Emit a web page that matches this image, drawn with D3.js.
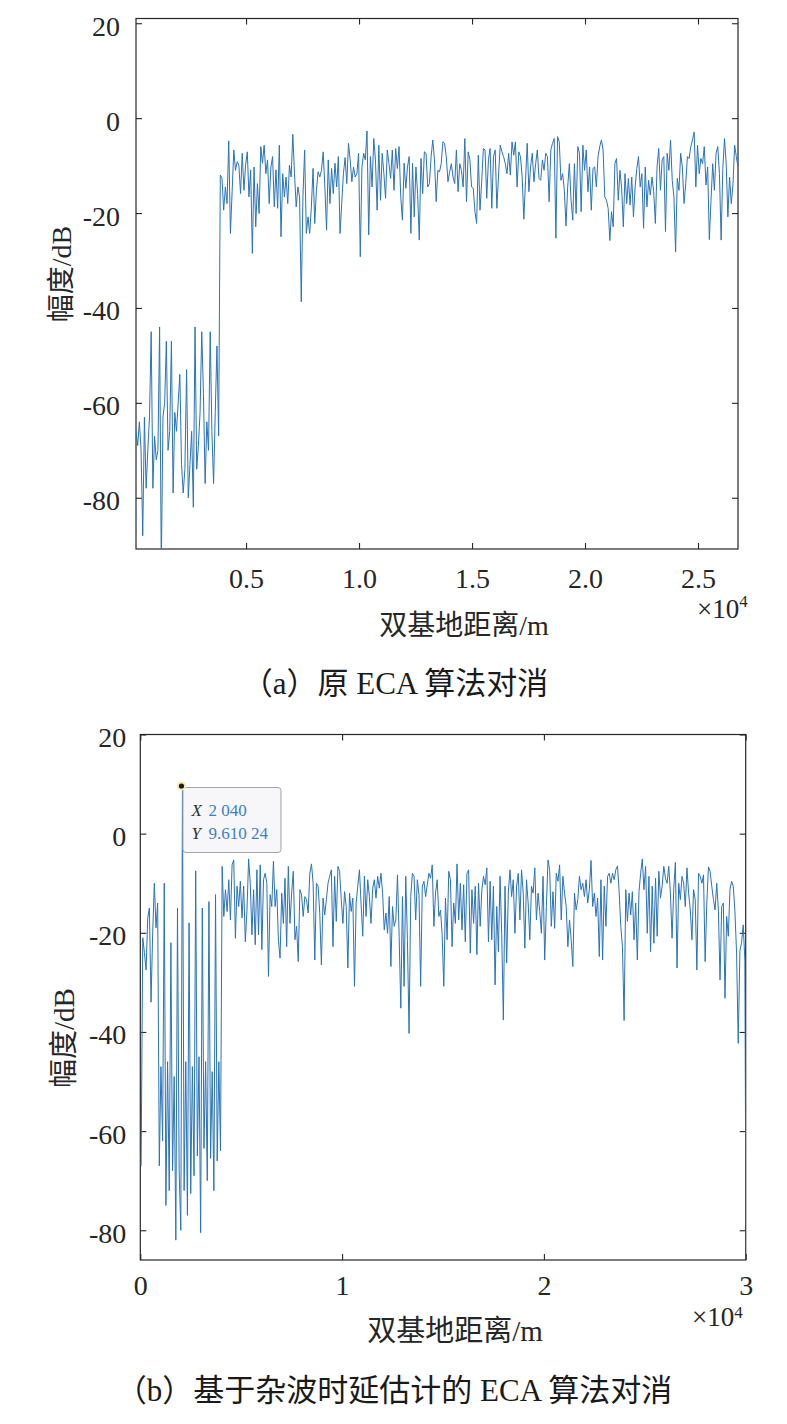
<!DOCTYPE html>
<html><head><meta charset="utf-8">
<script src="https://cdn.jsdelivr.net/npm/d3@7"></script>
<style>body{margin:0;background:#fff;} svg{display:block;} svg text{font-family:'Liberation Serif','Times New Roman','Noto Sans CJK SC',serif;}</style>
</head><body>
<svg id="chart" width="787" height="1424"></svg>
<script>
// ---------------- data ----------------
const yTicks = [20, 0, -20, -40, -60, -80];
const topXTicks = [5000, 10000, 15000, 20000, 25000];
const topXTickLabels = ["0.5", "1.0", "1.5", "2.0", "2.5"];
const bottomXTicks = [0, 10000, 20000, 30000];
const bottomXTickLabels = ["0", "1", "2", "3"];
const topRangeStart = 130, topRangeEnd = 26770;      // m, first/last range bin (a)
const bottomRangeStart = 40, bottomRangeEnd = 30040; // m, first/last range bin (b)

// (a) original ECA cancellation, amplitude in dB
const topMag = [
 -66,-69,-64,-70,-88,-63,-78,-70,-63,-45,-78,-67,-72,-70,-44,-95,-63,-60,-47,-70,
 -66,-47,-79,-62,-66,-60,-54,-73,-79,-74,-53,-80,-73,-66,-82,-44,-74,-69,-62,-45,
 -58,-77,-64,-70,-45,-66,-77,-62,-48,-67,
 -12.0,-12.7,-19.4,-14.5,-18,-4.8,-24.3,-15.5,-6.7,-11,-9.2,-9.9,-15.9,-7.4,-15.2,-9.9,-7.1,-16.6,-10.9,-28.5,
 -10.3,-22.9,-13.8,-20.1,-6.0,-9.5,-5.7,-11.7,-8.8,-18,-10.3,-8.1,-18.7,-10.9,-19,-5.7,-25,-11.7,-16.6,-12.4,
 -18,-9.9,-12.4,-3.4,-11.7,-18.7,-14.5,-16.6,-38.7,-16.6,-6.7,-24.3,-20.8,-24.3,-18.7,-10.6,-22.2,-15.2,-11.3,-12.4,
 -11,-7.1,-14.5,-23.6,-8.8,-18,-10.6,-15.9,-9.5,-14.5,-8.1,-24.3,-18,-11.7,-8.3,-13.8,-5.3,-8.8,-13.4,-10.3,
 -12.4,-11.7,-7.4,-29.2,-10.3,-7.4,-8.8,-2.7,-24.6,-8.1,-14.5,-4.3,-8.8,-19.4,-5.7,-17.3,-7.4,-11.7,-16.9,-6.7,
 -9.5,-12.7,-6.7,-15.2,-6.4,-10.6,-6.0,-16.6,-21.5,-9.5,-14.8,-10.3,-8.1,-24.3,-9.5,-20.8,-10.3,-15.9,-25.7,-8.5,
 -15.9,-7.1,-7.4,-14.5,-13.8,-8.1,-4.6,-8.8,-17.6,-11,
 -11.3,-9.6,-5.0,-5.3,-8.1,-13.4,-11.3,-9.6,-12.4,-13.8,-6.7,-15.5,-9.6,-11.0,-14.5,-4.3,-17.6,-7.1,-8.8,-14.5,
 -14.8,-19.7,-22.2,-7.8,-19.4,-13.4,-6.4,-6.7,-16.9,-8.8,-6.4,-19.0,-8.1,-6.7,-19.0,-12.0,-5.7,-7.1,-8.1,-9.6,
 -11.7,-7.4,-12.0,-5.0,-7.8,-5.0,-14.5,-7.1,-8.1,-12.4,-21.3,-13.1,-5.3,-15.5,-10.3,-7.4,-13.4,-9.6,-6.7,-12.7,
 -13.1,-8.8,-11.0,-7.4,-8.1,-17.6,-6.7,-5.3,-4.3,-25.3,-3.9,-5.0,-13.1,-11.7,-15.2,-22.7,-14.5,-9.6,-17.3,-21.5,
 -9.6,-20.1,-6.0,-7.4,-19.7,-5.7,-11.0,-6.7,-15.5,-10.3,-19.4,-10.6,-10.3,-14.5,-8.1,-6.0,-4.6,-6.7,-16.6,-17.3,
 -19.0,-25.8,-19.7,-22.9,-9.6,-8.5,-17.3,-11.0,-14.8,-22.9,-11.7,-18.0,-12.7,-18.3,-12.4,-20.8,-14.5,-10.6,-8.1,-14.5,
 -11.7,-23.2,-10.3,-18.7,-13.1,-16.2,-12.4,-15.5,-22.2,-10.3,-6.4,-15.2,-8.8,-8.1,-23.9,-7.4,-11.0,-4.6,-13.1,-16.6,
 -28.2,-12.7,-15.2,-7.4,-10.3,-18.0,-13.8,-8.1,-8.5,-6.0,-4.6,-2.9,-14.5,-5.7,-11.7,-8.5,-9.6,-6.0,-14.1,-10.3,
 -25.6,-17.3,-9.6,-15.2,-7.4,-6.0,-11.7,-25.7,-10.6,-4.3,-9.6,-20.8,-12.4,-18.0,-14.1,-5.7,-8.1,-10.3
];

// (b) ECA cancellation based on clutter delay estimation, amplitude in dB
const bottomMag = [
 -67,-21,-24,-27.5,-17,-15,-34,-20,-10,-19,
 -14,-67,-47,-62,-10,-75,-46,-72,-22,-68,
 -49,-82,-15,-68,-80,9.61024,-72,-46,-77,-18,
 -72.6,-47,-69,-7.5,-65,-45,-80.5,-15,-63.5,-46,
 -70,-13.7,-65.5,-48,-72,-12.3,-66,-46,-64,
 -6.6,-16.7,-11.3,-15.7,-9.3,-17.4,-6.3,-5.3,-21.1,-10.6,-14.7,-9.6,-17.0,-10.6,-21.8,-15.4,-5.1,-10.0,-20.4,-11.3,
 -22.4,-7.3,-20.4,-6.3,-23.4,-9.3,-8.0,-10.0,-28.8,-12.3,-14.7,-5.6,-14.7,-11.3,-21.4,-25.1,-12.0,-18.1,-9.0,-22.8,
 -6.6,-18.1,-12.0,-7.6,-21.4,-18.7,-25.8,-11.3,-12.3,-16.7,-12.7,-13.3,-16.0,-8.0,-6.1,-10.0,-25.5,-10.0,-10.6,-16.0,
 -26.5,-13.0,-16.4,-13.3,-10.0,-8.6,-7.3,-22.8,-8.6,-17.7,-6.6,-7.6,-13.3,-18.1,-11.7,-14.7,-27.1,-12.0,-15.7,-13.0,
 -30.8,-14.0,-10.6,-7.3,-14.3,-20.7,-8.6,-16.7,-9.3,-12.7,-18.1,-11.0,-9.3,-13.0,-8.6,-11.0,-8.0,-12.0,-19.4,-16.0,
 -20.1,-12.7,-26.8,-14.7,-18.7,-17.4,-8.3,-20.7,-35.2,-12.7,-30.8,-8.6,-21.4,-40.3,-12.7,-8.0,-8.6,-17.4,-9.3,-12.3,
 -30.8,-10.6,-9.6,-12.7,-10.3,-8.0,-9.0,-6.3,-18.7,-12.0,-9.3,-16.7,
 -15.4,-20.4,-30.8,-13.0,-21.4,-7.6,-9.3,-22.8,-14.0,-18.1,-6.1,-17.4,-10.0,-19.4,-10.3,-21.8,-8.0,-7.3,-24.1,-11.3,
 -18.1,-10.6,-24.4,-10.0,-18.7,-11.3,-8.6,-10.3,-6.9,-21.8,-9.6,-21.4,-10.6,-30.5,-14.7,-23.8,-8.6,-20.1,-37.6,-10.6,
 -26.1,-12.0,-7.3,-12.7,-9.3,-20.1,-10.6,-8.0,-17.4,-7.3,-12.0,-23.1,-9.3,-14.0,-21.4,-10.6,-12.0,-6.9,-17.4,-12.0,
 -15.7,-20.1,-8.6,-25.5,-14.7,-5.3,-7.3,-18.7,-11.7,-19.1,-8.0,-9.6,-6.3,-17.4,-8.6,-12.0,-14.7,-22.8,-17.4,-21.4,
 -26.8,-12.0,-15.4,-13.3,-8.6,-11.3,-10.0,-12.7,-9.3,-14.0,-11.3,-5.4,-14.7,-12.0,-16.7,-13.0,-24.8,-9.3,-25.5,-10.6,
 -18.7,-8.6,-8.0,-10.0,-8.0,-9.3,-7.3,-6.5,-11.7,-18.7,-22.8,-37.7,-11.3,-17.7,-12.0,-16.4,-11.7,-21.4,-14.0,-25.5,
 -11.7,-8.0,-5.1,-11.3,-6.6,-20.1,-8.6,-23.8,-10.6,-22.1,-9.0,-20.7,-7.6,-13.0,-10.6,-6.6,-9.0,-10.0,-6.6,-12.0,
 -21.1,-11.3,-5.8,-27.1,-10.0,-13.3,-8.6,-10.0,-14.7,-6.9,-12.0,-15.4,-21.4,-11.3,-13.3,-27.5,-8.0,-8.6,-10.0,-8.3,
 -25.8,-14.0,-6.7,-7.6,-10.6,-13.3,-15.4,-10.0,-15.4,-29.5,-14.7,-14.0,-33.2,-16.7,-20.7,-11.3,-9.6,-10.6,-15.7,-24.1,
 -42.3,-23.6,-22,-18.4,-25.5,
 -110
];

const datatip = { x: 2040, y: 9.61024, xText: "2 040", yText: "9.610 24" };
const xLabelText = "双基地距离/m";
const yLabelText = "幅度/dB";
const captionA = "（a）原 ECA 算法对消";
const captionB = "（b）基于杂波时延估计的 ECA 算法对消";

// ---------------- drawing ----------------
const FONT = "'Liberation Serif','Times New Roman','Noto Sans CJK SC',serif";
const INK = "#262626";
const LINE = "#2a73b8";
const svg = d3.select("#chart").attr("font-family", FONT);
svg.append("rect").attr("width", 787).attr("height", 1424).attr("fill", "#fff");

function rangeBins(start, end, n) {
  const step = (end - start) / (n - 1);
  return d3.range(n).map(i => start + i * step);
}

function panel(cfg) {
  const x = d3.scaleLinear().domain(cfg.xDomain).range([cfg.left, cfg.right]);
  const y = d3.scaleLinear().domain(cfg.yDomain).range([cfg.bottom, cfg.top]);
  const g = svg.append("g");

  // frame
  g.append("rect").attr("x", cfg.left).attr("y", cfg.top)
    .attr("width", cfg.right - cfg.left).attr("height", cfg.bottom - cfg.top)
    .attr("fill", "none").attr("stroke", INK).attr("stroke-width", 1.2);

  const styleAxis = sel => {
    sel.attr("font-family", FONT).attr("font-size", cfg.tickFont);
    sel.select(".domain").remove();
    sel.selectAll(".tick line").attr("stroke", INK).attr("stroke-width", 1.1);
    sel.selectAll("text").attr("fill", INK)
      .attr("font-family", FONT).style("font-family", FONT)
      .style("font-size", cfg.tickFont + "px");
  };

  const left = g.append("g").attr("transform", `translate(${cfg.left},0)`)
    .call(d3.axisLeft(y).tickValues(yTicks).tickSize(-6).tickPadding(cfg.yPad)
      .tickFormat(d => String(d)));
  styleAxis(left);
  left.selectAll("text").attr("dy", 12);

  const right = g.append("g").attr("transform", `translate(${cfg.right},0)`)
    .call(d3.axisRight(y).tickValues(yTicks).tickSize(-6).tickFormat(""));
  styleAxis(right);

  const bottom = g.append("g").attr("transform", `translate(0,${cfg.bottom})`)
    .call(d3.axisBottom(x).tickValues(cfg.xTicks).tickSize(-6)
      .tickFormat((d, i) => cfg.xTickLabels[i]));
  styleAxis(bottom);
  bottom.selectAll("text").attr("y", cfg.xTickBase).attr("dy", 0);

  const top = g.append("g").attr("transform", `translate(0,${cfg.top})`)
    .call(d3.axisTop(x).tickValues(cfg.xTicks).tickSize(-6).tickFormat(""));
  styleAxis(top);

  // data line
  const clipId = "clip" + cfg.id;
  svg.append("clipPath").attr("id", clipId).append("rect")
    .attr("x", cfg.left).attr("y", cfg.top)
    .attr("width", cfg.right - cfg.left).attr("height", cfg.bottom - cfg.top);
  const xs = rangeBins(cfg.rangeStart, cfg.rangeEnd, cfg.values.length);
  const line = d3.line().x((d, i) => x(xs[i])).y(d => y(d));
  g.append("path").datum(cfg.values).attr("d", line)
    .attr("clip-path", `url(#${clipId})`)
    .attr("fill", "none").attr("stroke", LINE).attr("stroke-width", 1)
    .attr("stroke-linejoin", "round");

  // exponent
  const ex = g.append("text").attr("x", cfg.expX).attr("y", cfg.expY)
    .attr("fill", INK).style("font-size", "27px");
  ex.append("tspan").text("×10");
  ex.append("tspan").attr("dy", cfg.supDy).style("font-size", "17px").text("4");

  // axis labels
  g.append("text").attr("x", cfg.xLabelX).attr("y", cfg.xLabelY)
    .attr("text-anchor", "middle").attr("fill", INK)
    .style("font-size", cfg.labelFont + "px").text(xLabelText);
  g.append("text").attr("transform", `translate(${cfg.yLabelX},${cfg.yLabelY}) rotate(-90)`)
    .attr("text-anchor", "middle").attr("fill", INK)
    .style("font-size", cfg.labelFont + "px").text(yLabelText);

  // caption
  g.append("text").attr("x", cfg.captionX).attr("y", cfg.captionY)
    .attr("text-anchor", "middle").attr("fill", "#1a1a1a")
    .style("font-size", "31px").text(cfg.caption);

  return { x, y, g };
}

panel({
  id: "a", left: 136, right: 738, top: 18.5, bottom: 549,
  xDomain: [topRangeStart, topRangeEnd], yDomain: [-90.8, 21],
  xTicks: topXTicks, xTickLabels: topXTickLabels,
  rangeStart: topRangeStart, rangeEnd: topRangeEnd, values: topMag,
  tickFont: 28, yPad: 16, xTickBase: 39,
  expX: 697, expY: 618, supDy: -11, labelFont: 28,
  xLabelX: 464, xLabelY: 635, yLabelX: 71, yLabelY: 274,
  captionX: 395, captionY: 694, caption: captionA
});

const pb = panel({
  id: "b", left: 140.3, right: 745.7, top: 734.5, bottom: 1260,
  xDomain: [0, 30000], yDomain: [-86, 20],
  xTicks: bottomXTicks, xTickLabels: bottomXTickLabels,
  rangeStart: bottomRangeStart, rangeEnd: bottomRangeEnd, values: bottomMag,
  tickFont: 28, yPad: 14, xTickBase: 35,
  expX: 692, expY: 1326, supDy: -8, labelFont: 29,
  xLabelX: 455, xLabelY: 1341, yLabelX: 74, yLabelY: 1038,
  captionX: 394, captionY: 1401, caption: captionB
});

// datatip
const tx = pb.x(datatip.x), ty = pb.y(datatip.y);
const tip = svg.append("g");
tip.append("rect").attr("x", tx + 1.5).attr("y", ty + 1.5).attr("width", 98).attr("height", 65)
  .attr("rx", 3).attr("fill", "#f7f7f9").attr("stroke", "#a3a3a3").attr("stroke-width", 1);
tip.append("circle").attr("cx", tx).attr("cy", ty).attr("r", 3.6)
  .attr("fill", "#1a1a1a").attr("stroke", "#f3e7b3").attr("stroke-width", 2);
const rowX = tip.append("text").attr("x", tx + 10).attr("y", ty + 30).style("font-size", "17px");
rowX.append("tspan").attr("fill", "#333").style("font-style", "italic").text("X");
rowX.append("tspan").attr("x", tx + 27).attr("fill", "#3d7fc2").text(datatip.xText);
const rowY = tip.append("text").attr("x", tx + 10).attr("y", ty + 53).style("font-size", "17px");
rowY.append("tspan").attr("fill", "#333").style("font-style", "italic").text("Y");
rowY.append("tspan").attr("x", tx + 27).attr("fill", "#3d7fc2").text(datatip.yText);
</script>
</body></html>
